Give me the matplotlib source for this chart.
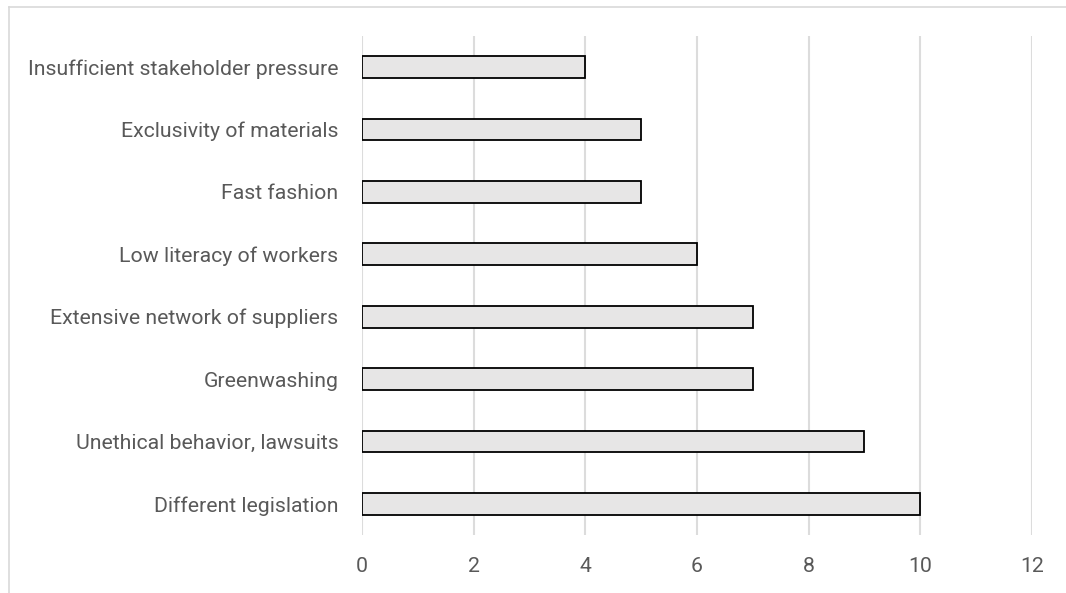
import matplotlib.pyplot as plt
from matplotlib.lines import Line2D

categories = [
    "Different legislation",
    "Unethical behavior, lawsuits",
    "Greenwashing",
    "Extensive network of suppliers",
    "Low literacy of workers",
    "Fast fashion",
    "Exclusivity of materials",
    "Insufficient stakeholder pressure",
]
counts = [10, 9, 7, 7, 6, 5, 5, 4]
x_ticks = [0, 2, 4, 6, 8, 10, 12]

plt.rcParams['font.family'] = ['Roboto', 'DejaVu Sans']

fig = plt.figure(figsize=(10.66, 5.93), dpi=100)
ax = fig.add_axes([0.3396, 0.0978, 0.6284, 0.8415])

ax.barh(range(len(categories)), counts, height=0.35, color='#e7e6e6',
        edgecolor='black', linewidth=1.3, zorder=3)

ax.set_xlim(0, 12)
ax.set_ylim(-0.5, len(categories) - 0.5)
ax.set_xticks(x_ticks)
ax.set_yticks(range(len(categories)))
ax.set_yticklabels(categories)
ax.xaxis.grid(True, color='#dcdcdc', linewidth=1.5, zorder=0)
ax.tick_params(axis='both', length=0, labelsize=15.3, labelcolor='#595959')
ax.tick_params(axis='y', pad=17)
ax.tick_params(axis='x', pad=16)
for s in ax.spines.values():
    s.set_visible(False)

# chart area border
fig.add_artist(Line2D([9 / 1066, 9 / 1066], [0, 1 - 7 / 593], color='#d9d9d9', linewidth=1.2))
fig.add_artist(Line2D([9 / 1066, 1], [1 - 7 / 593, 1 - 7 / 593], color='#d9d9d9', linewidth=1.2))

fig.savefig('out.png', dpi=100)
